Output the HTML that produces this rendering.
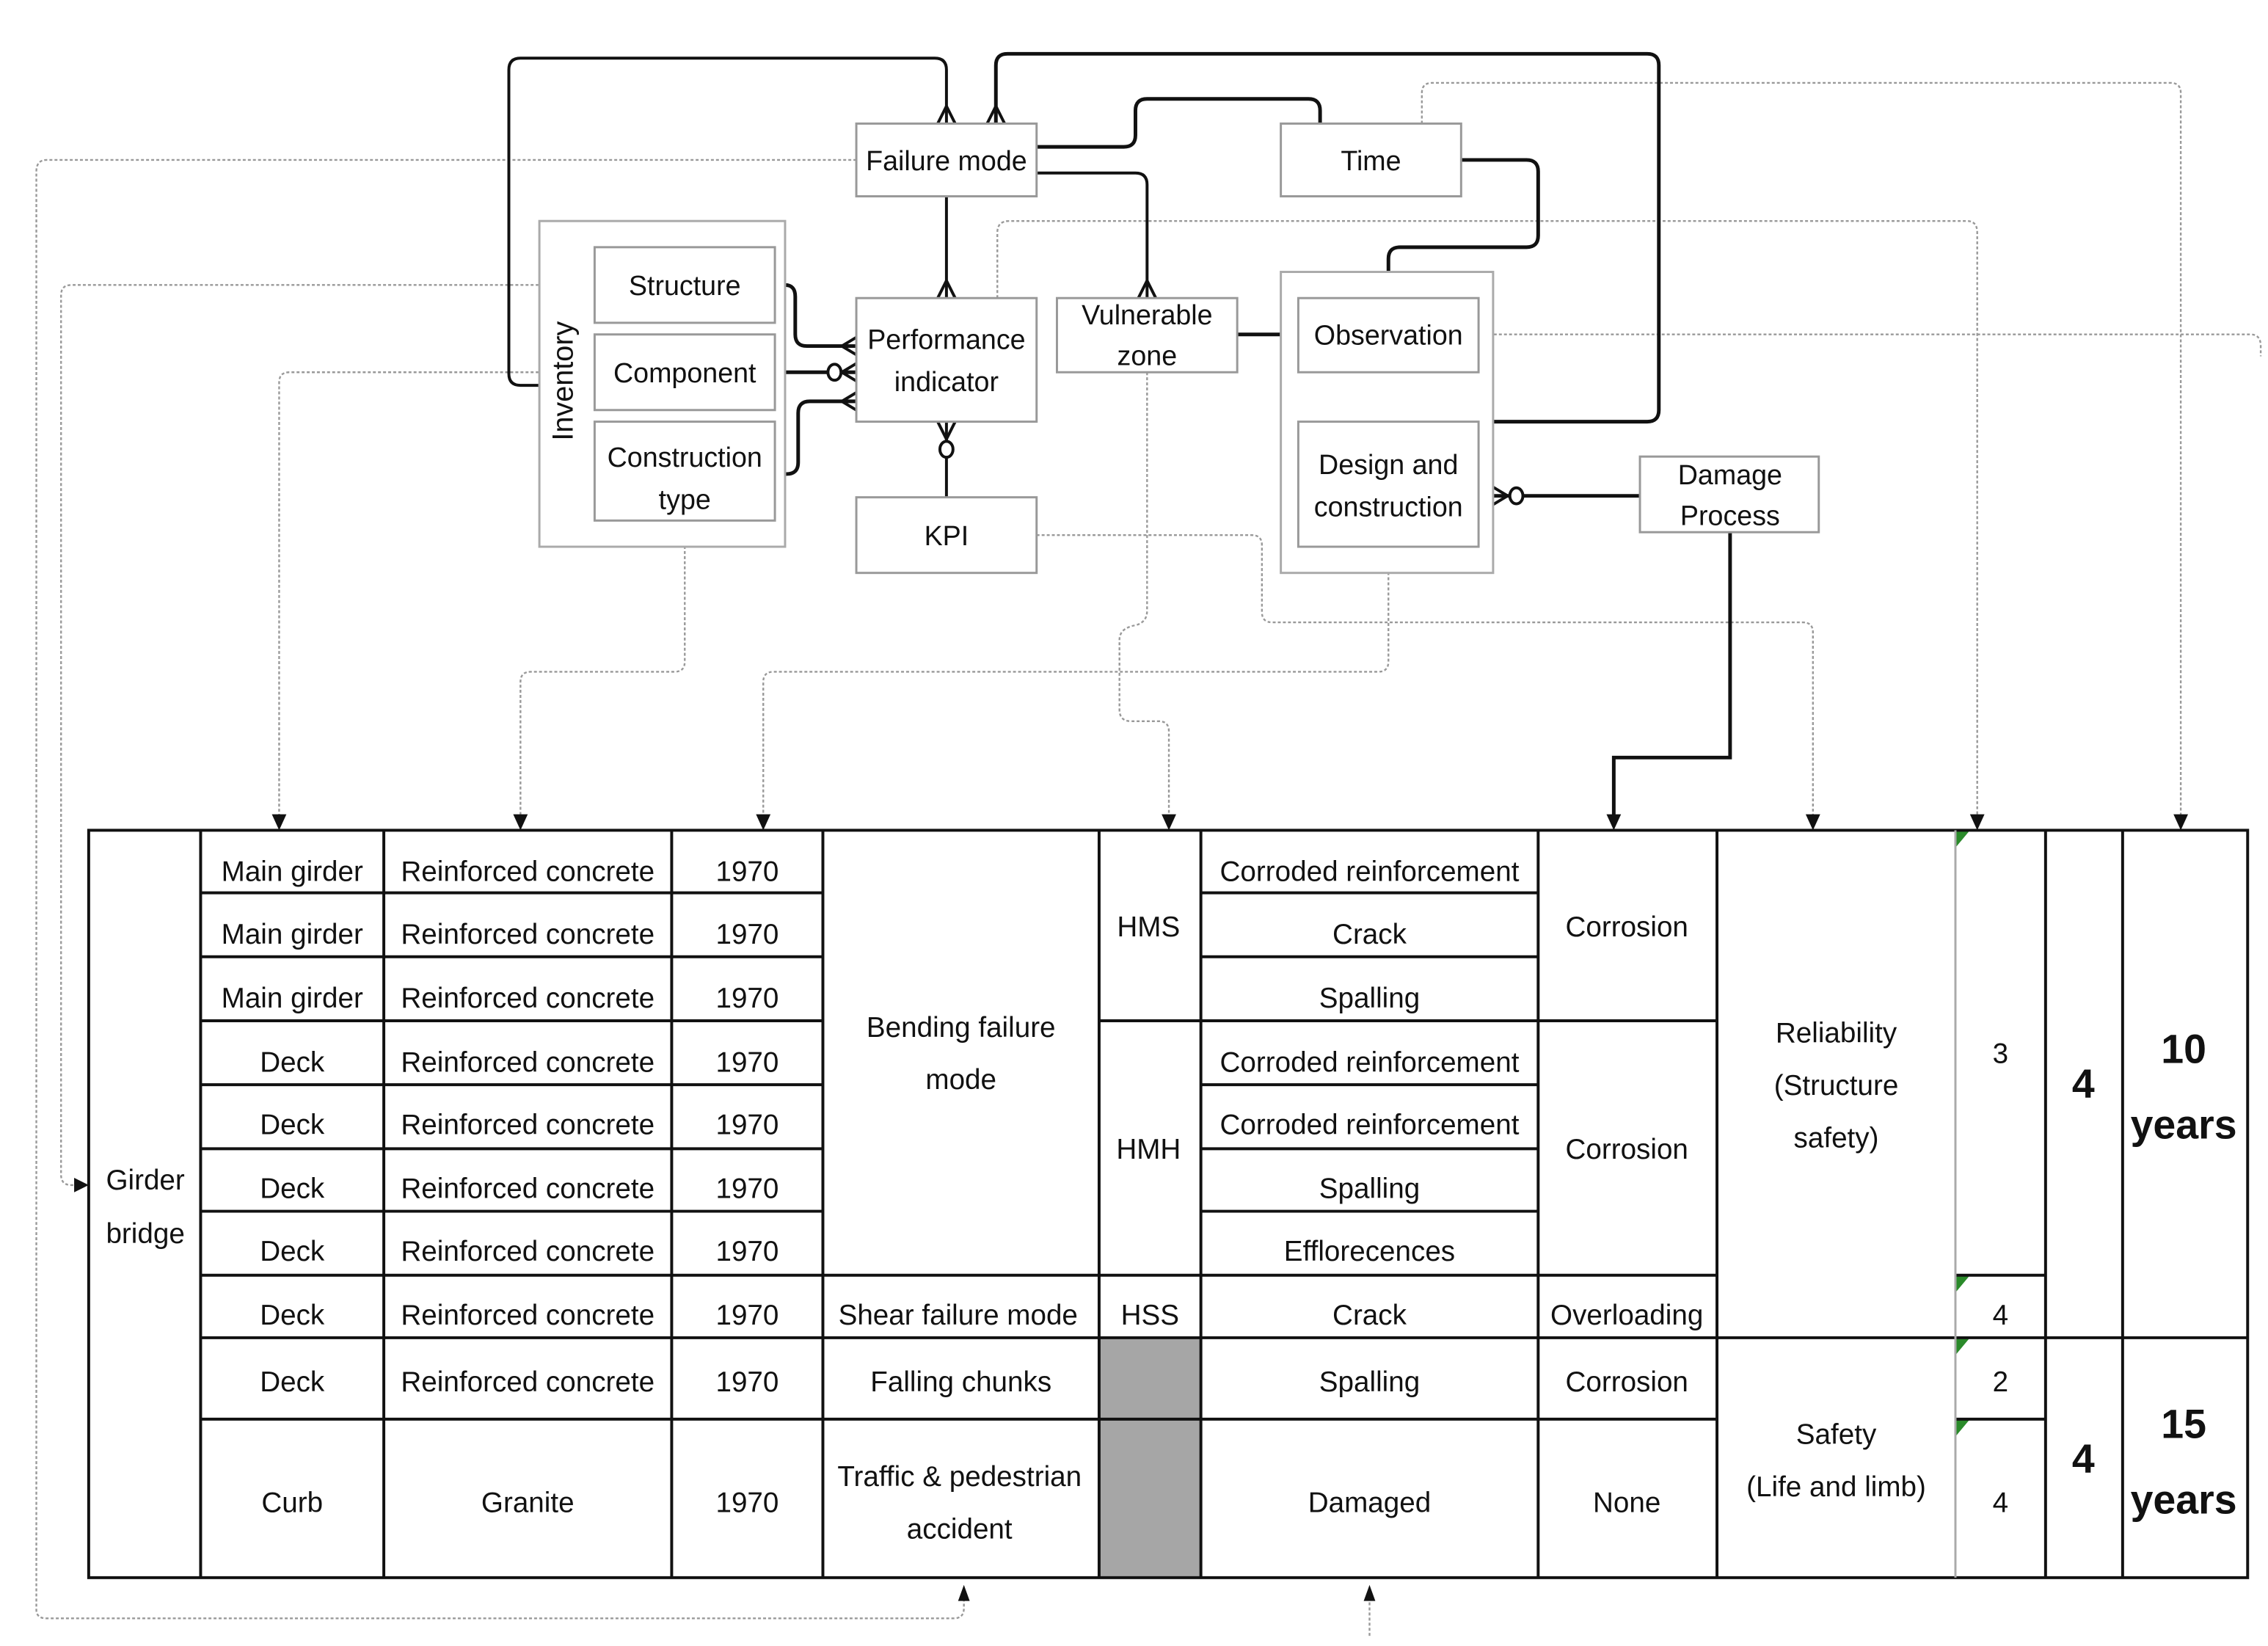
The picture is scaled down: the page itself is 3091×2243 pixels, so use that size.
<!DOCTYPE html>
<html><head><meta charset="utf-8"><style>
html,body{margin:0;padding:0;background:#fff;}
svg{display:block;}
text{font-family:"Liberation Sans",sans-serif;fill:#111;}
</style></head><body>
<svg width="3091" height="2243" viewBox="0 0 1560 1132" preserveAspectRatio="none" xmlns="http://www.w3.org/2000/svg">
<rect width="1560" height="1132" fill="#fff"/>
<!-- dotted gray connectors -->
<g fill="none" stroke="#999" stroke-width="1.2" stroke-dasharray="2,1.5">
<path d="M589 110 H32 Q25 110 25 118 V1107 Q25 1113 32 1113 H656 Q663 1113 663 1106 V1096"/>
<path d="M409 196 H49 Q42 196 42 203 V808 Q42 815 49 815 H55"/>
<path d="M409 256 H199 Q192 256 192 263 V563"/>
<path d="M471 358 V455 Q471 462 464 462 H365 Q358 462 358 469 V563"/>
<path d="M955 376 V455 Q955 462 948 462 H532 Q525 462 525 469 V563"/>
<path d="M686 205 V160 Q686 152 694 152 H1353 Q1360 152 1360 160 V563"/>
<path d="M978 85 V64 Q978 57 985 57 H1493 Q1500 57 1500 64 V563"/>
<path d="M1017 230 H1548 Q1555 230 1555 238 V245"/>
<path d="M713 368 H861 Q868 368 868 375 V421 Q868 428 875 428 H1240 Q1247 428 1247 435 V563"/>
<path d="M789 256 V420 Q789 428 781 430 Q770 432 770 440 V488 Q770 496 778 496 H797 Q804 496 804 503 V563"/>
<path d="M942 1125 V1096"/>
</g>
<g fill="#111">
<path d="M663 1090 l-4 11 h8z"/>
<path d="M61 815 l-10 -5 v10z"/>
<path d="M192 571 l-5 -11 h10z"/>
<path d="M358 571 l-5 -11 h10z"/>
<path d="M525 571 l-5 -11 h10z"/>
<path d="M804 571 l-5 -11 h10z"/>
<path d="M1110 571 l-5 -11 h10z"/>
<path d="M1247 571 l-5 -11 h10z"/>
<path d="M1360 571 l-5 -11 h10z"/>
<path d="M1500 571 l-5 -11 h10z"/>
<path d="M942 1090 l-4 11 h8z"/>
</g>
<!-- solid connectors -->
<g fill="none" stroke="#111" stroke-width="2">
<path d="M651 85 V48 Q651 40 643 40 H358 Q350 40 350 48 V257 Q350 265 358 265 H371"/>
<path d="M685 85 V45 Q685 37 693 37 H1133 Q1141 37 1141 45 V282 Q1141 290 1133 290 H1027" stroke-width="2.5"/>
<path d="M713 101 H773 Q781 101 781 93 V76 Q781 68 789 68 H900 Q908 68 908 76 V85" stroke-width="2.5"/>
<path d="M713 119 H781 Q789 119 789 127 V205"/>
<path d="M651 135 V205"/>
<path d="M1005 110 H1050 Q1058 110 1058 118 V162 Q1058 170 1050 170 H963 Q955 170 955 178 V187" stroke-width="2.5"/>
<path d="M533 196 H540 Q547 196 547 204 V230 Q547 238 555 238 H589" stroke-width="2.5"/>
<path d="M533 256 H589" stroke-width="2.5"/>
<path d="M533 326 H541 Q549 326 549 318 V284 Q549 276 557 276 H589" stroke-width="2.5"/>
<path d="M651 290 V342"/>
<path d="M851 230 H893" stroke-width="2.5"/>
<path d="M1027 341 H1128" stroke-width="2.5"/>
<path d="M1190 366 V521 H1110 V563" stroke-width="2.5"/>
<!-- crow feet -->
<path d="M645 85 L651 73 L657 85"/>
<path d="M679 85 L685 73 L691 85"/>
<path d="M645 205 L651 193 L657 205"/>
<path d="M783 205 L789 193 L795 205"/>
<path d="M589 232 L579 238 L589 244"/>
<path d="M589 250 L579 256 L589 262"/>
<path d="M589 270 L579 276 L589 282"/>
<path d="M645 290 L651 302 L657 290"/>
<path d="M893 224 L883 230 L893 236"/>
<path d="M1027 335 L1037 341 L1027 347"/>
</g>
<g fill="#fff" stroke="#111" stroke-width="2">
<ellipse cx="574" cy="256" rx="4.5" ry="5.5"/>
<ellipse cx="651" cy="309" rx="4.5" ry="5.5"/>
<ellipse cx="1043" cy="341" rx="4.5" ry="5.5"/>
</g>
<!-- boxes -->
<g fill="none" stroke="#aaa" stroke-width="1.5">
<rect x="371" y="152" width="169" height="224" fill="#fff"/>
<rect x="881" y="187" width="146" height="207" fill="#fff"/>
</g>
<g fill="#fff" stroke="#999" stroke-width="1.5">
<rect x="589" y="85" width="124" height="50"/>
<rect x="881" y="85" width="124" height="50"/>
<rect x="409" y="170" width="124" height="52"/>
<rect x="409" y="230" width="124" height="52"/>
<rect x="409" y="290" width="124" height="68"/>
<rect x="589" y="205" width="124" height="85"/>
<rect x="727" y="205" width="124" height="51"/>
<rect x="893" y="205" width="124" height="51"/>
<rect x="893" y="290" width="124" height="86"/>
<rect x="589" y="342" width="124" height="52"/>
<rect x="1128" y="314" width="123" height="52"/>
</g>
<g font-size="19" text-anchor="middle">
<text x="651" y="117">Failure mode</text>
<text x="943" y="117">Time</text>
<text x="471" y="203">Structure</text>
<text x="471" y="263">Component</text>
<text x="471" y="321">Construction</text>
<text x="471" y="350">type</text>
<text x="651" y="240">Performance</text>
<text x="651" y="269">indicator</text>
<text x="789" y="223">Vulnerable</text>
<text x="789" y="251">zone</text>
<text x="955" y="237">Observation</text>
<text x="955" y="326">Design and</text>
<text x="955" y="355">construction</text>
<text x="651" y="375">KPI</text>
<text x="1190" y="333">Damage</text>
<text x="1190" y="361">Process</text>
<text x="0" y="0" transform="translate(394,262) rotate(-90)" font-size="20">Inventory</text>
</g>
<!-- table -->
<g fill="#a6a6a6"><rect x="756" y="920" width="70" height="165"/></g>
<g fill="#2a8a2a">
<path d="M1345 571 h10 l-10 12z"/><path d="M1345 877 h10 l-10 12z"/><path d="M1345 920 h10 l-10 12z"/><path d="M1345 976 h10 l-10 12z"/>
</g>
<g stroke="#111" stroke-width="2" fill="none">
<rect x="61" y="571" width="1485" height="514"/>
<path d="M138 571V1085 M264 571V1085 M462 571V1085 M566 571V1085 M756 571V1085 M826 571V1085 M1058 571V1085 M1181 571V1085 M1407 571V1085 M1460 571V1085"/>
<path d="M138 614H566 M138 658H566 M138 702H566 M138 746H566 M138 790H566 M138 833H566 M138 877H756"/>
<path d="M826 614H1058 M826 658H1058 M826 746H1058 M826 790H1058 M826 833H1058"/>
<path d="M756 702H1181 M756 877H1181 M1345 877H1407"/>
<path d="M138 920H1546 M138 976H1181 M1345 976H1407"/>
</g>
<path d="M1345 571V1085" stroke="#aaa" stroke-width="1.5"/>
<g font-size="19.5" text-anchor="middle">
<text x="100" y="818">Girder</text><text x="100" y="855">bridge</text>
<text x="201" y="606">Main girder</text><text x="363" y="606">Reinforced concrete</text><text x="514" y="606">1970</text>
<text x="201" y="649">Main girder</text><text x="363" y="649">Reinforced concrete</text><text x="514" y="649">1970</text>
<text x="201" y="693">Main girder</text><text x="363" y="693">Reinforced concrete</text><text x="514" y="693">1970</text>
<text x="201" y="737">Deck</text><text x="363" y="737">Reinforced concrete</text><text x="514" y="737">1970</text>
<text x="201" y="780">Deck</text><text x="363" y="780">Reinforced concrete</text><text x="514" y="780">1970</text>
<text x="201" y="824">Deck</text><text x="363" y="824">Reinforced concrete</text><text x="514" y="824">1970</text>
<text x="201" y="867">Deck</text><text x="363" y="867">Reinforced concrete</text><text x="514" y="867">1970</text>
<text x="201" y="911">Deck</text><text x="363" y="911">Reinforced concrete</text><text x="514" y="911">1970</text>
<text x="201" y="957">Deck</text><text x="363" y="957">Reinforced concrete</text><text x="514" y="957">1970</text>
<text x="201" y="1040">Curb</text><text x="363" y="1040">Granite</text><text x="514" y="1040">1970</text>
<text x="661" y="713">Bending failure</text><text x="661" y="749">mode</text>
<text x="659" y="911">Shear failure mode</text>
<text x="661" y="957">Falling chunks</text>
<text x="660" y="1022">Traffic &amp; pedestrian</text><text x="660" y="1058">accident</text>
<text x="790" y="644">HMS</text><text x="790" y="797">HMH</text><text x="791" y="911">HSS</text>
<text x="942" y="606">Corroded reinforcement</text><text x="942" y="649">Crack</text><text x="942" y="693">Spalling</text>
<text x="942" y="737">Corroded reinforcement</text><text x="942" y="780">Corroded reinforcement</text><text x="942" y="824">Spalling</text>
<text x="942" y="867">Efflorecences</text><text x="942" y="911">Crack</text><text x="942" y="957">Spalling</text><text x="942" y="1040">Damaged</text>
<text x="1119" y="644">Corrosion</text><text x="1119" y="797">Corrosion</text><text x="1119" y="911">Overloading</text><text x="1119" y="957">Corrosion</text><text x="1119" y="1040">None</text>
<text x="1263" y="717">Reliability</text><text x="1263" y="753">(Structure</text><text x="1263" y="789">safety)</text>
<text x="1263" y="993">Safety</text><text x="1263" y="1029">(Life and limb)</text>
<text x="1376" y="731">3</text><text x="1376" y="911">4</text><text x="1376" y="957">2</text><text x="1376" y="1040">4</text>
</g>
<g font-size="28" font-weight="bold" text-anchor="middle">
<text x="1433" y="755">4</text><text x="1433" y="1013">4</text>
<text x="1502" y="731">10</text><text x="1502" y="783">years</text>
<text x="1502" y="989">15</text><text x="1502" y="1041">years</text>
</g>
</svg>
</body></html>
